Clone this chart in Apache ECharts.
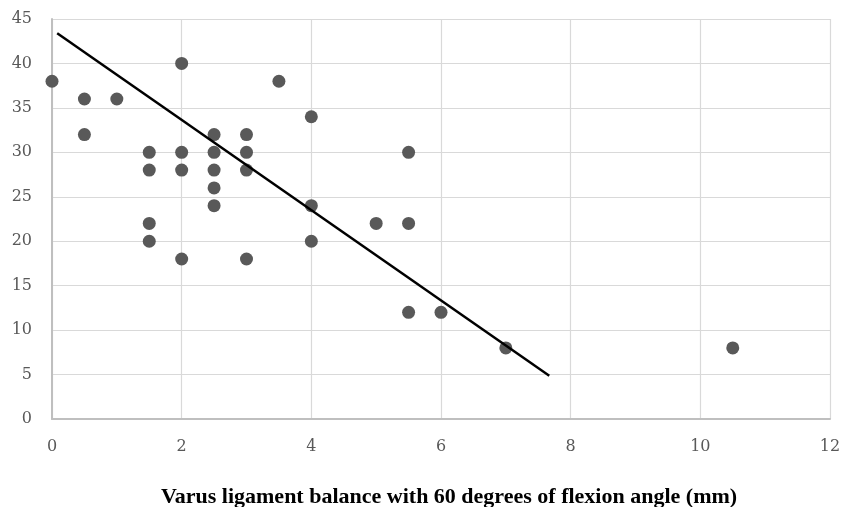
<!DOCTYPE html>
<html>
<head>
<meta charset="utf-8">
<script src="https://cdn.jsdelivr.net/npm/echarts@6/dist/echarts.min.js"></script>
<style>html,body{margin:0;padding:0;background:#fff;}#chart{width:843px;height:507px;}</style>
</head>
<body>
<div id="chart"></div>
<script>
const xValues = [0, 0.5, 0.5, 1, 1.5, 1.5, 1.5, 1.5, 2, 2, 2, 2, 2.5, 2.5, 2.5, 2.5, 2.5, 3, 3, 3, 3, 3.5, 4, 4, 4, 5, 5.5, 5.5, 5.5, 6, 7, 10.5];
const yValues = [38, 36, 32, 36, 30, 28, 22, 20, 40, 30, 28, 18, 32, 30, 28, 26, 24, 32, 30, 28, 18, 38, 34, 24, 20, 22, 30, 22, 12, 12, 8, 8];
const trendX = [0.08, 7.67];
const trendY = [43.4, 4.86];
const xTicks = [0, 2, 4, 6, 8, 10, 12];
const yTicks = [0, 5, 10, 15, 20, 25, 30, 35, 40, 45];
const xTitle = 'Varus ligament balance with 60 degrees of flexion angle (mm)';

const chart = echarts.init(document.getElementById('chart'));
const labelStyle = {color: '#595959', fontFamily: 'DejaVu Serif', fontSize: 16};
chart.setOption({
  animation: false,
  grid: {left: 52, right: 13, top: 19, bottom: 88, containLabel: false, outerBoundsMode: 'none'},
  xAxis: {
    type: 'value', min: xTicks[0], max: xTicks[xTicks.length - 1], interval: 2,
    name: xTitle, nameLocation: 'middle', nameGap: 67,
    nameTextStyle: {color: '#000', fontFamily: 'Liberation Serif', fontWeight: 'bold', fontSize: 22, padding: [0, 0, 0, 16]},
    axisLine: {show: true, lineStyle: {color: '#bfbfbf', width: 2}},
    axisTick: {show: false},
    axisLabel: Object.assign({margin: 20}, labelStyle),
    splitLine: {show: true, lineStyle: {color: '#d9d9d9', width: 1.2}}
  },
  yAxis: {
    type: 'value', min: yTicks[0], max: yTicks[yTicks.length - 1], interval: 5,
    axisLine: {show: true, lineStyle: {color: '#bfbfbf', width: 2}},
    axisTick: {show: false},
    axisLabel: Object.assign({margin: 20}, labelStyle),
    splitLine: {show: true, lineStyle: {color: '#d9d9d9', width: 1.2}}
  },
  series: [
    {
      type: 'scatter', symbol: 'circle', symbolSize: 13,
      itemStyle: {color: '#595959', opacity: 1},
      data: xValues.map((x, i) => [x, yValues[i]]),
      z: 2
    },
    {
      type: 'line', symbol: 'none',
      lineStyle: {color: '#000', width: 2.5},
      data: trendX.map((x, i) => [x, trendY[i]]),
      z: 3
    }
  ]
});
</script>
</body>
</html>
